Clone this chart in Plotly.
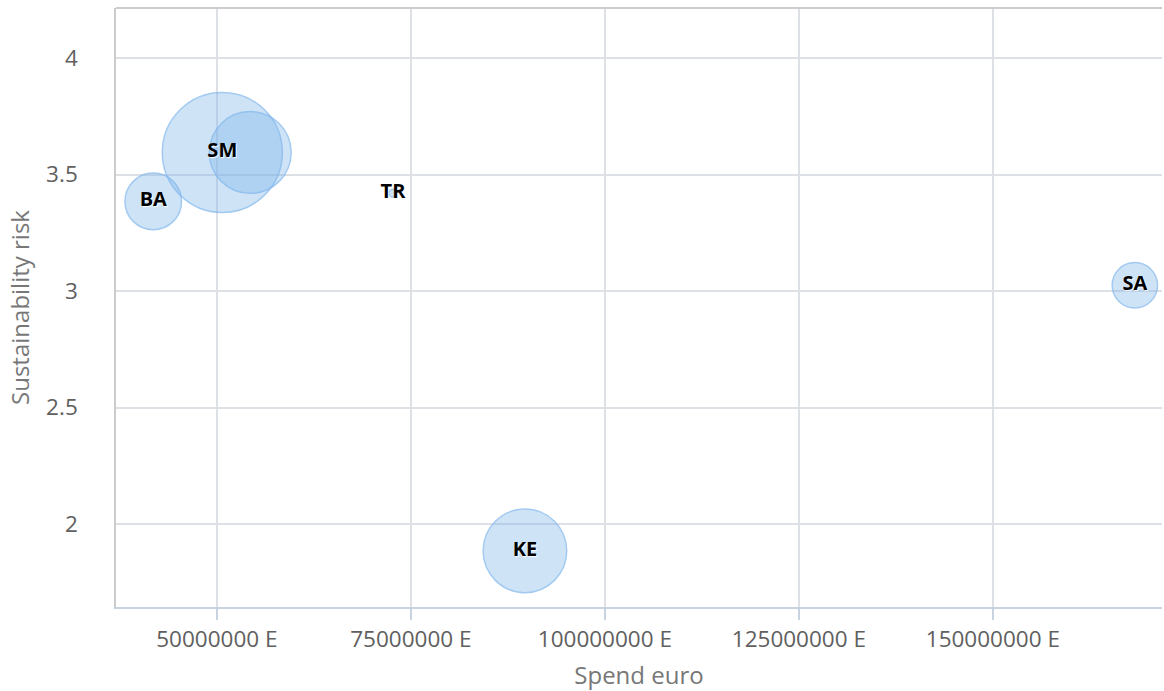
import plotly.graph_objects as go
import numpy as np

# Supplier groups: spend (euro), sustainability risk score, bubble weight
codes = ["BA", "SM", "SM", "TR", "KE", "SA"]
show_label = [True, True, False, True, True, True]
spend = [41.8e6, 50.7e6, 54.3e6, 72.7e6, 89.7e6, 168.3e6]
risk = [3.385, 3.595, 3.595, 3.42, 1.885, 3.025]
weight = [24, 100, 48, 1, 50, 16]

x_ticks = [50e6, 75e6, 100e6, 125e6, 150e6]
x_tick_text = ["50000000 E", "75000000 E", "100000000 E", "125000000 E", "150000000 E"]
y_ticks = [2, 2.5, 3, 3.5, 4]

# Bubble diameters: sqrt-scaled between a min and max pixel size
min_px, max_px = 8, 120
w = np.sqrt(np.array(weight, dtype=float))
pos = (w - w.min()) / (w.max() - w.min())
diam = min_px + pos * (max_px - min_px)

fig = go.Figure()
fig.add_trace(go.Scatter(
    x=spend, y=risk,
    mode="markers",
    marker=dict(size=diam, sizemode="diameter",
                color="rgba(124,181,236,0.52)",
                line=dict(color="rgba(124,181,236,1)", width=1.5)),
    hoverinfo="skip",
    showlegend=False,
))
fig.add_trace(go.Scatter(
    x=[s for s, k in zip(spend, show_label) if k],
    y=[r for r, k in zip(risk, show_label) if k],
    text=[c for c, k in zip(codes, show_label) if k],
    mode="text",
    textfont=dict(family="Open Sans", size=20, color="#000000", weight="bold",
                  shadow="1px 1px 1px white"),
    textposition="middle center",
    hoverinfo="skip",
    showlegend=False,
))

axis_font = dict(family="Open Sans", size=22.5, color="#606060")
fig.update_layout(
    width=1164, height=691,
    margin=dict(l=116, r=2, t=8, b=84),
    paper_bgcolor="white", plot_bgcolor="white",
    xaxis=dict(
        range=[37.0e6, 171.8e6],
        tickvals=x_ticks, ticktext=x_tick_text,
        tickfont=axis_font,
        showgrid=True, gridcolor="#dde0e5", gridwidth=1.5,
        zeroline=False,
        showline=True, linecolor="#c8d2e0", linewidth=1.5,
        ticks="outside", ticklen=11, tickcolor="#c8d2e0", tickwidth=1.5,
        title=dict(text="Spend euro", font=dict(family="Open Sans", size=24, color="#777777"),
                   standoff=17),
    ),
    yaxis=dict(
        range=[1.644, 4.215],
        tickvals=y_ticks, ticktext=["2", "2.5", "3", "3.5", "4"],
        tickfont=axis_font,
        showgrid=True, gridcolor="#dde0e5", gridwidth=1.5,
        zeroline=False,
        showline=True, linecolor="#cccccc", linewidth=1.5,
        ticks="", ticklabelstandoff=32,
        title=dict(text="Sustainability risk", font=dict(family="Open Sans", size=24, color="#777777"),
                   standoff=10),
    ),
    shapes=[dict(type="line", xref="paper", yref="paper", x0=0, x1=1, y0=1, y1=1,
                 line=dict(color="#cccccc", width=2))],
)

fig.write_html("out.html")
